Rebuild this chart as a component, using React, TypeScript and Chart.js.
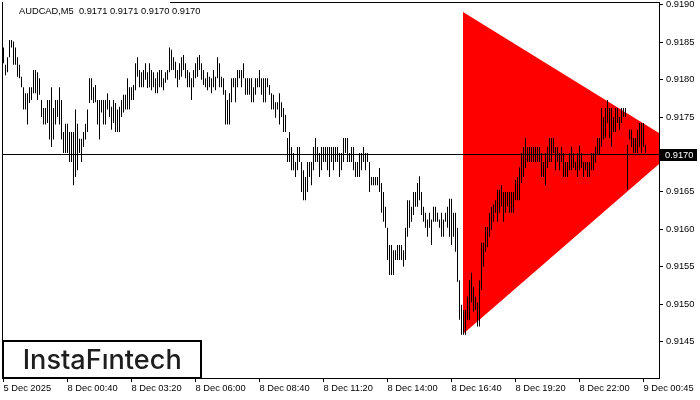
import React, { useEffect, useRef } from "react";
import { Chart, registerables } from "chart.js";

Chart.register(...registerables);

// ---- data ----
const highs: number[] = [
  0.91843, 0.9182, 0.9183, 0.91853, 0.91853, 0.91851, 0.91843, 0.9183, 0.9182, 0.91804,
  0.9179, 0.91782, 0.91782, 0.9179, 0.9179, 0.91813, 0.91813, 0.9181, 0.91802, 0.91773,
  0.91762, 0.91762, 0.91773, 0.91773, 0.9179, 0.91762, 0.91773, 0.91773, 0.9179, 0.91773,
  0.9173, 0.91741, 0.91741, 0.9173, 0.9173, 0.9173, 0.9176, 0.91741, 0.91721, 0.91721,
  0.9173, 0.91741, 0.9176, 0.91802, 0.91802, 0.9179, 0.91793, 0.91773, 0.91773, 0.91773,
  0.91773, 0.91773, 0.91782, 0.91773, 0.91764, 0.91773, 0.91769, 0.9176, 0.91764, 0.91773,
  0.9178, 0.9178, 0.91802, 0.9179, 0.9179, 0.91793, 0.91822, 0.9183, 0.91813, 0.9181,
  0.91813, 0.91822, 0.9181, 0.91822, 0.91813, 0.9181, 0.91802, 0.9181, 0.91813, 0.91813,
  0.91802, 0.9181, 0.91813, 0.91843, 0.9184, 0.9183, 0.91824, 0.91813, 0.91822, 0.9183,
  0.91833, 0.91822, 0.91813, 0.9181, 0.91802, 0.91813, 0.91822, 0.9183, 0.91833, 0.91822,
  0.91813, 0.91802, 0.9181, 0.91804, 0.91802, 0.91813, 0.91804, 0.9183, 0.91822, 0.91804,
  0.91802, 0.91786, 0.91773, 0.91782, 0.91802, 0.91802, 0.91802, 0.91813, 0.91813, 0.91813,
  0.91822, 0.91802, 0.91802, 0.91802, 0.91802, 0.9179, 0.91802, 0.91802, 0.91813, 0.91802,
  0.91802, 0.91802, 0.91802, 0.91793, 0.91782, 0.9178, 0.9177, 0.9177, 0.91782, 0.9177,
  0.91762, 0.91753, 0.91722, 0.9173, 0.9171, 0.91702, 0.9169, 0.9171, 0.9171, 0.9169,
  0.91679, 0.9167, 0.9169, 0.9169, 0.9169, 0.9171, 0.91722, 0.9171, 0.91702, 0.9171,
  0.9171, 0.9171, 0.9171, 0.9171, 0.9171, 0.9171, 0.9171, 0.9171, 0.91702, 0.91702,
  0.91722, 0.91722, 0.91722, 0.91702, 0.9171, 0.9171, 0.9169, 0.9169, 0.91702, 0.91702,
  0.9171, 0.91702, 0.91702, 0.9169, 0.9167, 0.9167, 0.9167, 0.9167, 0.91682, 0.91662,
  0.9165, 0.9163, 0.91602, 0.91579, 0.91579, 0.91572, 0.91572, 0.91579, 0.91579, 0.91579,
  0.91572, 0.91602, 0.91639, 0.91639, 0.9163, 0.9165, 0.9165, 0.91662, 0.91671, 0.9165,
  0.9163, 0.91622, 0.91613, 0.91622, 0.91613, 0.9163, 0.9163, 0.91622, 0.91613, 0.91622,
  0.91613, 0.91622, 0.9163, 0.91641, 0.91641, 0.91622, 0.91622, 0.91602, 0.91532, 0.91499,
  0.91492, 0.91492, 0.9151, 0.91532, 0.91542, 0.91523, 0.9151, 0.91502, 0.91532, 0.91582,
  0.91582, 0.91603, 0.91603, 0.91622, 0.9163, 0.91633, 0.91639, 0.91653, 0.91653, 0.91659,
  0.9165, 0.9165, 0.9165, 0.9165, 0.9165, 0.9165, 0.91666, 0.9167, 0.91683, 0.91702,
  0.9171, 0.91722, 0.9171, 0.9171, 0.9171, 0.9171, 0.9171, 0.9171, 0.9171, 0.91702,
  0.9169, 0.91702, 0.9171, 0.91722, 0.91722, 0.91722, 0.9171, 0.9171, 0.91702, 0.9171,
  0.91702, 0.9169, 0.9169, 0.91702, 0.9171, 0.91702, 0.9169, 0.91702, 0.91712, 0.91702,
  0.9169, 0.9169, 0.9169, 0.9169, 0.91702, 0.91702, 0.9171, 0.91722, 0.91722, 0.91762,
  0.9175, 0.91762, 0.91773, 0.91762, 0.91762, 0.9175, 0.91762, 0.91762, 0.9175, 0.91762,
  0.91762, 0.91762, 0.91713, 0.91733, 0.91733, 0.91722, 0.91722, 0.91733, 0.91742, 0.91742,
  0.91742, 0.91713,
];

const lows: number[] = [
  0.91822, 0.91806, 0.9181, 0.9183, 0.91843, 0.9182, 0.9182, 0.91804, 0.91802, 0.9179,
  0.9176, 0.9176, 0.9174, 0.91769, 0.91773, 0.91782, 0.91782, 0.91773, 0.9178, 0.9175,
  0.9174, 0.9174, 0.91742, 0.9172, 0.9171, 0.9172, 0.9174, 0.9175, 0.9174, 0.9172,
  0.91702, 0.91702, 0.91702, 0.9169, 0.9169, 0.91659, 0.9167, 0.91679, 0.91702, 0.9169,
  0.9171, 0.9172, 0.9173, 0.91769, 0.91773, 0.91769, 0.9177, 0.9174, 0.9172, 0.91756,
  0.9174, 0.9174, 0.9176, 0.9175, 0.91733, 0.91742, 0.9173, 0.9173, 0.9173, 0.9175,
  0.91756, 0.9176, 0.9176, 0.9176, 0.91773, 0.91773, 0.91786, 0.91804, 0.9179, 0.9179,
  0.9179, 0.918, 0.91789, 0.9179, 0.91786, 0.9179, 0.91782, 0.91782, 0.9179, 0.9179,
  0.91786, 0.91796, 0.918, 0.9181, 0.91813, 0.91813, 0.91802, 0.9179, 0.918, 0.91804,
  0.91813, 0.91802, 0.9179, 0.9179, 0.91773, 0.9179, 0.91802, 0.91804, 0.91813, 0.918,
  0.91793, 0.9179, 0.91786, 0.9179, 0.91782, 0.9179, 0.91786, 0.91802, 0.9179, 0.9179,
  0.9178, 0.9174, 0.9174, 0.9174, 0.9177, 0.9179, 0.9177, 0.9179, 0.91802, 0.9179,
  0.91802, 0.9178, 0.9178, 0.9178, 0.9177, 0.9177, 0.9178, 0.9179, 0.9179, 0.9178,
  0.9177, 0.9177, 0.9179, 0.9178, 0.9176, 0.9176, 0.91749, 0.9176, 0.9174, 0.9175,
  0.9173, 0.9173, 0.9169, 0.9169, 0.91679, 0.91679, 0.9167, 0.91679, 0.9169, 0.9165,
  0.91639, 0.91639, 0.9165, 0.9167, 0.91659, 0.91679, 0.9169, 0.9169, 0.9167, 0.91679,
  0.9169, 0.9169, 0.91679, 0.9167, 0.9169, 0.91679, 0.9169, 0.9169, 0.9167, 0.91679,
  0.9169, 0.91702, 0.9169, 0.9169, 0.9169, 0.91679, 0.9167, 0.9167, 0.9167, 0.91679,
  0.9169, 0.91679, 0.9169, 0.9165, 0.91659, 0.91659, 0.91659, 0.91659, 0.9165, 0.91622,
  0.9161, 0.91602, 0.91559, 0.91539, 0.91539, 0.91539, 0.91559, 0.91559, 0.91559, 0.91559,
  0.9155, 0.91559, 0.9159, 0.91602, 0.9161, 0.91619, 0.9163, 0.9163, 0.91639, 0.91619,
  0.9161, 0.91602, 0.9159, 0.91602, 0.91579, 0.9161, 0.9161, 0.9161, 0.91602, 0.9159,
  0.9159, 0.9161, 0.91602, 0.9159, 0.91579, 0.9159, 0.9157, 0.9153, 0.91479, 0.91459,
  0.91459, 0.91459, 0.91479, 0.91479, 0.91502, 0.9149, 0.91492, 0.9147, 0.9147, 0.91519,
  0.9155, 0.9157, 0.91576, 0.9159, 0.91599, 0.9161, 0.91622, 0.9161, 0.91622, 0.9163,
  0.9161, 0.91622, 0.9163, 0.91622, 0.91622, 0.91622, 0.91639, 0.91639, 0.91639, 0.91662,
  0.9167, 0.91682, 0.9169, 0.9169, 0.9169, 0.9169, 0.9169, 0.9169, 0.9169, 0.9167,
  0.9167, 0.91659, 0.91682, 0.9169, 0.9169, 0.91702, 0.91679, 0.9169, 0.91679, 0.9169,
  0.9167, 0.9167, 0.9167, 0.91679, 0.91679, 0.91682, 0.91679, 0.9167, 0.91679, 0.91682,
  0.9167, 0.91679, 0.9167, 0.9167, 0.91679, 0.91679, 0.91689, 0.917, 0.917, 0.9171,
  0.9172, 0.91722, 0.91742, 0.91722, 0.9171, 0.9173, 0.9173, 0.91742, 0.91733, 0.91742,
  0.9175, 0.9175, 0.91653, 0.9172, 0.9171, 0.91702, 0.91702, 0.91702, 0.9171, 0.91702,
  0.9171, 0.91702,
];

// symmetric triangle pattern: x = bar index, y = price
const triangleTopX: number[] = [229.75, 338.25];
const triangleTopY: number[] = [0.918905, 0.917115];
const triangleBottomX: number[] = [229.75, 338.25];
const triangleBottomY: number[] = [0.9146, 0.917115];

const levelPrice = 0.917;
const yTickValues: number[] = [0.9145, 0.915, 0.9155, 0.916, 0.9165, 0.917, 0.9175, 0.918, 0.9185, 0.919];
const xTickIdx: number[] = [0, 32, 64, 96, 128, 160, 192, 224, 256, 288, 320];
const xTickLabels: string[] = [
  "5 Dec 2025", "8 Dec 00:40", "8 Dec 03:20", "8 Dec 06:00", "8 Dec 08:40", "8 Dec 11:20",
  "8 Dec 14:00", "8 Dec 16:40", "8 Dec 19:20", "8 Dec 22:00", "9 Dec 00:45",
];
const titleText = "AUDCAD,M5  0.9171 0.9171 0.9170 0.9170";
const logoText = "InstaF\u0131ntech";

const FONT = '"Liberation Sans", Arial, sans-serif';

export default function App() {
  const ref = useRef<HTMLCanvasElement | null>(null);

  useEffect(() => {
    const canvas = ref.current;
    if (!canvas) return;

    const barData = highs.map((h, i) => ({ x: i, y: [lows[i], h] }));
    const triTop = triangleTopX.map((x, i) => ({ x, y: triangleTopY[i] }));
    const triBottom = triangleBottomX.map((x, i) => ({ x, y: triangleBottomY[i] }));
    const level = [{ x: -5, y: levelPrice }, { x: 340, y: levelPrice }];

    const overlay = {
      id: "overlay",
      afterDraw(chart: any) {
        const ctx = chart.ctx as CanvasRenderingContext2D;
        const a = chart.chartArea;
        ctx.save();
        // frame (left + top)
        ctx.strokeStyle = "#000";
        ctx.lineWidth = 1;
        ctx.beginPath();
        ctx.moveTo(a.left + 0.5, a.top);
        ctx.lineTo(a.left + 0.5, a.bottom);
        ctx.moveTo(170, a.top + 0.5);
        ctx.lineTo(a.right, a.top + 0.5);
        ctx.stroke();
        // title
        ctx.fillStyle = "#000";
        ctx.font = `9.3px ${FONT}`;
        ctx.textAlign = "left";
        ctx.textBaseline = "alphabetic";
        ctx.fillText(titleText, 19, 14);
        // logo
        ctx.fillStyle = "#fff";
        ctx.fillRect(3, 341, 198, 37);
        ctx.lineWidth = 2;
        ctx.strokeStyle = "#000";
        ctx.strokeRect(3, 341, 198, 37);
        ctx.fillStyle = "#1e1e1e";
        ctx.font = `500 27px Inter, "Open Sans", sans-serif`;
        const w = ctx.measureText(logoText).width;
        ctx.save();
        ctx.translate(22.7, 369);
        ctx.scale(159 / w, 1);
        ctx.fillText(logoText, 0, 0);
        ctx.restore();
        // current price label
        const yScale = chart.scales.y;
        const py = yScale.getPixelForValue(levelPrice);
        ctx.fillStyle = "#000";
        ctx.fillRect(660, Math.round(py) - 6, 37, 12);
        ctx.fillStyle = "#fff";
        ctx.font = `9.3px ${FONT}`;
        ctx.textBaseline = "middle";
        ctx.fillText(levelPrice.toFixed(4), 665, py + 0.5);
        ctx.restore();
      },
    };

    const chart = new Chart(canvas, {
      type: "bar",
      data: {
        datasets: [
          {
            type: "line",
            data: level as any,
            borderColor: "#000",
            borderWidth: 1,
            pointRadius: 0,
            fill: false,
            order: 0,
          } as any,
          {
            type: "bar",
            data: barData as any,
            backgroundColor: "#000",
            borderWidth: 0,
            barThickness: 1,
            inflateAmount: 0,
            grouped: false,
            order: 1,
          } as any,
          {
            type: "line",
            data: triTop as any,
            borderColor: "rgba(0,0,0,0)",
            borderWidth: 0,
            pointRadius: 0,
            backgroundColor: "#ff0000",
            fill: "+1",
            order: 2,
          } as any,
          {
            type: "line",
            data: triBottom as any,
            borderColor: "rgba(0,0,0,0)",
            borderWidth: 0,
            pointRadius: 0,
            fill: false,
            order: 3,
          } as any,
        ],
      },
      options: {
        responsive: false,
        animation: false,
        events: [],
        layout: { padding: { left: 2, top: 2, right: 0, bottom: 0 } },
        plugins: { legend: { display: false }, tooltip: { enabled: false }, title: { display: false } },
        scales: {
          x: {
            type: "linear",
            min: -0.75,
            max: 327.75,
            offset: false,
            bounds: "data",
            grid: { display: true, drawOnChartArea: false, drawTicks: true, tickLength: 4, color: "#000", offset: false },
            border: { display: true, color: "#000", width: 1 },
            ticks: {
              autoSkip: false,
              maxRotation: 0,
              minRotation: 0,
              align: "start",
              padding: 1,
              color: "#000",
              font: { family: FONT, size: 9.3 },
              callback: (_v: any, i: number) => xTickLabels[i],
            },
            afterBuildTicks: (s: any) => {
              s.ticks = xTickIdx.map((v) => ({ value: v }));
            },
            afterFit: (s: any) => {
              s.height = 22;
              s.paddingLeft = 0;
              s.paddingRight = 0;
              s.paddingTop = 0;
              s.paddingBottom = 0;
            },
          },
          y: {
            type: "linear",
            position: "right",
            min: 0.914012,
            max: 0.9190388,
            beginAtZero: false,
            bounds: "data",
            grid: { display: true, drawOnChartArea: false, drawTicks: true, tickLength: 4, color: "#000" },
            border: { display: true, color: "#000", width: 1 },
            ticks: {
              padding: 3,
              color: "#000",
              font: { family: FONT, size: 9.3 },
              callback: (v: any) => Number(v).toFixed(4),
            },
            afterBuildTicks: (s: any) => {
              s.ticks = yTickValues.map((v) => ({ value: v }));
            },
            afterFit: (s: any) => {
              s.width = 41;
              s.paddingLeft = 0;
              s.paddingRight = 0;
              s.paddingTop = 0;
              s.paddingBottom = 0;
            },
          },
        },
      } as any,
      plugins: [overlay],
    });

    return () => chart.destroy();
  }, []);

  return (
    <div style={{ position: "fixed", left: 0, top: 0, width: 700, height: 400, background: "#fff" }}>
      <canvas ref={ref} width={700} height={400} style={{ display: "block", width: 700, height: 400 }} />
    </div>
  );
}
